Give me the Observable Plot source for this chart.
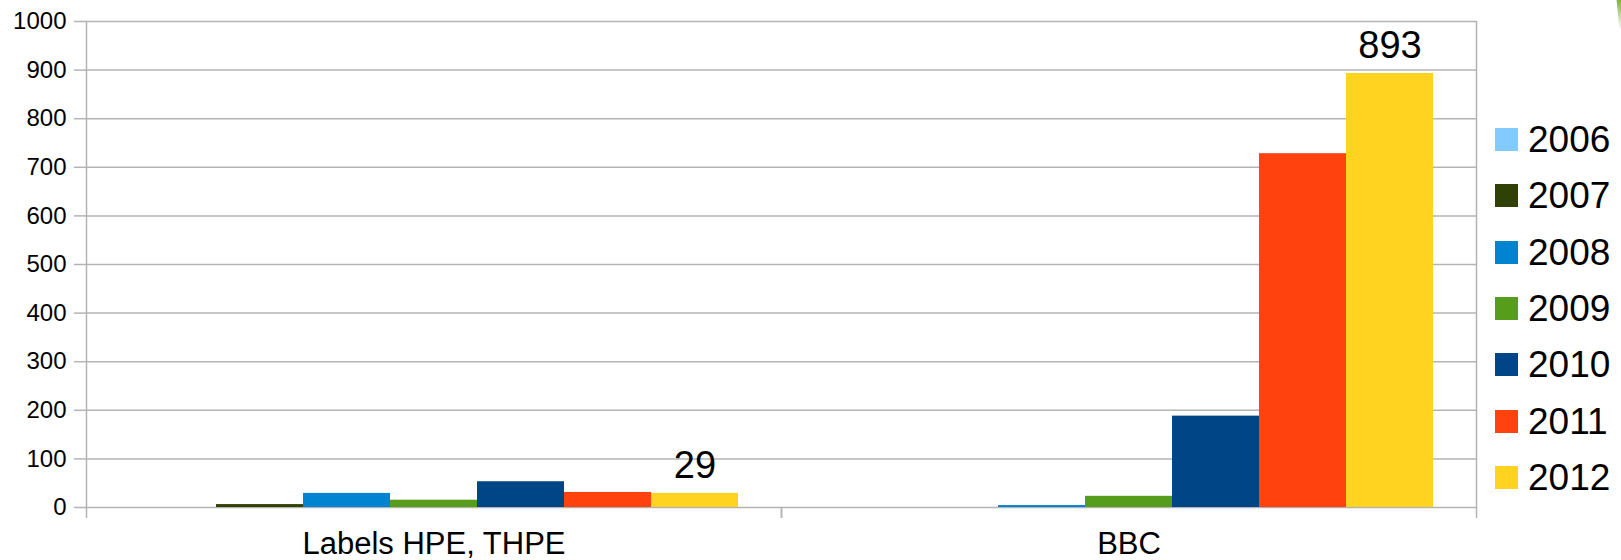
<!DOCTYPE html>
<html><head><meta charset="utf-8">
<script src="https://cdn.jsdelivr.net/npm/d3@7"></script>
<script src="https://cdn.jsdelivr.net/npm/@observablehq/plot@0.6"></script>
<style>
html,body{margin:0;padding:0;background:#fff;}
#wrap{position:relative;width:1621px;height:560px;font-family:"Liberation Sans",Arial,sans-serif;overflow:hidden;}
#chart{position:absolute;left:0;top:0;}
#legend{position:absolute;left:1495px;top:111.4px;}
.row{display:flex;align-items:center;height:56.3px;}
.sw{width:23px;height:23px;margin-right:10px;flex:none;}
.lab{font-size:37px;line-height:1;color:#000;}
#deco{position:absolute;right:0;top:0;width:8px;height:30px;background:linear-gradient(to bottom,#7fb23a,rgba(160,200,90,0));clip-path:polygon(45% 0,100% 0,100% 100%,80% 100%);}
</style></head><body>
<div id="wrap"><div id="chart"></div><div id="legend"></div><div id="deco"></div></div>
<script>
// ---- data ----
const categories = ["Labels HPE, THPE", "BBC"];
const years = ["2006", "2007", "2008", "2009", "2010", "2011", "2012"];
const valuesHPE = [0, 6, 29, 15, 53, 31, 29];
const valuesBBC = [0, 0, 4, 23, 188, 728, 893];
const colors = ["#83caff", "#314004", "#0084d1", "#579d1c", "#004586", "#ff420e", "#ffd320"];
const yTicks = [0, 100, 200, 300, 400, 500, 600, 700, 800, 900, 1000];
const labelYear = "2012";

const series = [valuesHPE, valuesBBC];
const rows = categories.flatMap((c, ci) => years.map((y, yi) => ({category: c, year: y, value: series[ci][yi]})));

// ---- layout ----
const W = 1490, H = 560, mL = 86, mR = 14, mT = 21, mB = 53;
const facetW = (W - mL - mR) / categories.length;
const gray = "#b3b3b3";

const chart = Plot.plot({
  width: W, height: H,
  marginLeft: mL, marginRight: mR, marginTop: mT, marginBottom: mB,
  style: {fontFamily: "Liberation Sans, Arial, sans-serif", color: "#000", background: "#fff", overflow: "visible"},
  fx: {domain: categories, padding: 0},
  x: {domain: years, paddingInner: 0, paddingOuter: 0.49, axis: null},
  y: {domain: [0, 1000]},
  color: {domain: years, range: colors},
  marks: [
    Plot.gridY(yTicks, {stroke: gray, strokeOpacity: 1, strokeWidth: 1.5}),
    Plot.axisY(yTicks, {tickSize: 12, text: null, stroke: gray, strokeWidth: 1.5, label: null}),
    Plot.axisY(yTicks, {tickSize: 0, tickPadding: 20, fontSize: 24, tickFormat: d => String(d), label: null}),
    Plot.frame({anchor: "left", facetAnchor: "left", stroke: gray, strokeWidth: 1.5}),
    Plot.frame({anchor: "right", facetAnchor: "right", stroke: gray, strokeWidth: 1.5}),
    Plot.axisFx({anchor: "bottom", tickSize: 11, text: null, stroke: gray, strokeWidth: 1.5, dx: -facetW / 2, label: null}),
    Plot.axisFx([categories[categories.length - 1]], {anchor: "bottom", tickSize: 11, text: null, stroke: gray, strokeWidth: 1.5, dx: facetW / 2, label: null}),
    Plot.axisFx({anchor: "bottom", tickSize: 0, tickPadding: 24, fontSize: 31, label: null}),
    Plot.barY(rows, {fx: "category", x: "year", y: "value", fill: "year"}),
    Plot.text(rows.filter(d => d.year === labelYear), {fx: "category", x: "year", y: "value", text: d => String(d.value), dy: -28, fontSize: 38})
  ]
});
document.getElementById("chart").appendChild(chart);

// ---- legend ----
const legend = document.getElementById("legend");
years.forEach((y, i) => {
  const row = document.createElement("div");
  row.className = "row";
  const sw = document.createElement("div");
  sw.className = "sw";
  sw.style.background = colors[i];
  const lab = document.createElement("span");
  lab.className = "lab";
  lab.textContent = y;
  row.appendChild(sw);
  row.appendChild(lab);
  legend.appendChild(row);
});
</script>
</body></html>
